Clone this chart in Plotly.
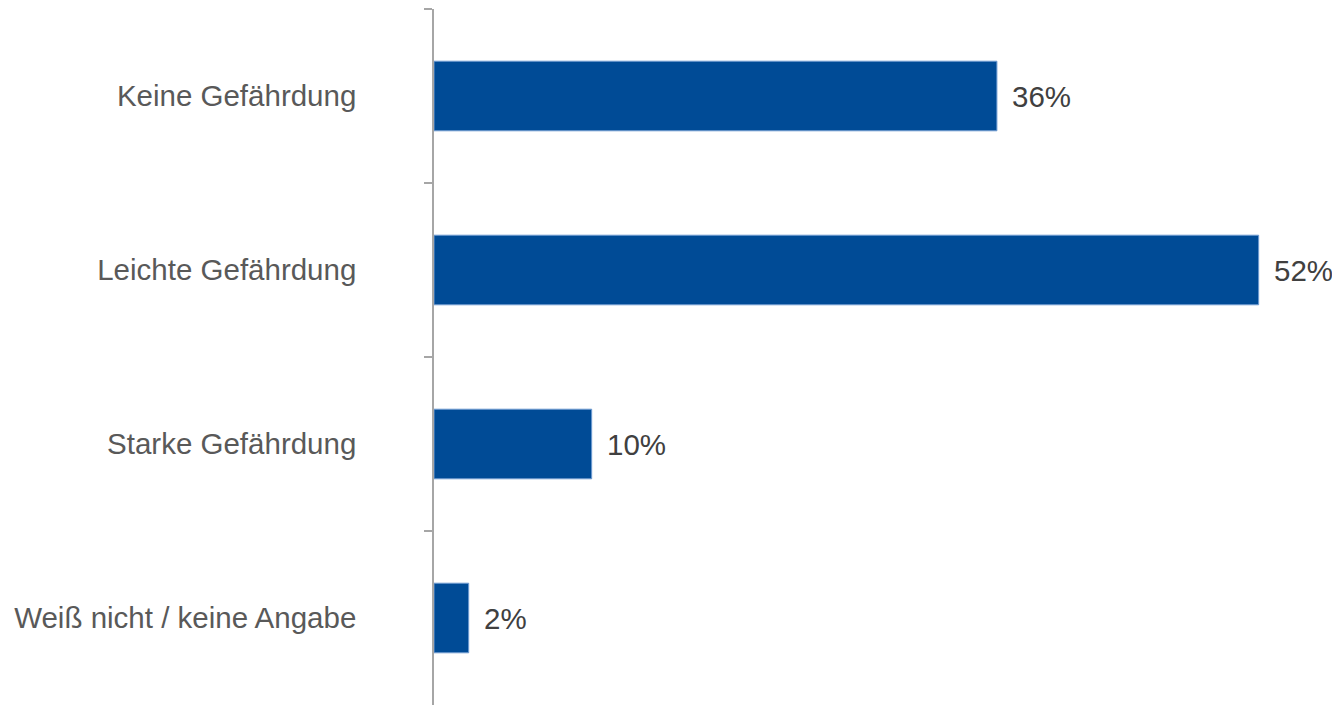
import plotly.graph_objects as go

categories = ["Keine Gefährdung", "Leichte Gefährdung", "Starke Gefährdung", "Weiß nicht / keine Angabe"]
values = [35.7, 52.3, 10.0, 2.2]
labels = ["36%", "52%", "10%", "2%"]

fig = go.Figure()
fig.add_trace(go.Bar(
    y=categories, x=values, orientation="h",
    marker=dict(color="#004B96", line=dict(color="#6F9BD1", width=1)),
    width=0.4,
    hoverinfo="skip",
))
for c, v, t in zip(categories, values, labels):
    fig.add_annotation(x=v, y=c, text=t, showarrow=False, xanchor="left",
                       xshift=13, font=dict(family="Liberation Sans, Arial", size=29.5, color="#404040"))

fig.update_layout(
    width=1332, height=705,
    margin=dict(l=434, r=15, t=9, b=0),
    plot_bgcolor="white", paper_bgcolor="white",
    showlegend=False,
    font=dict(family="Liberation Sans, Arial", size=29.5, color="#595959"),
)
fig.update_xaxes(range=[0, 56], visible=False, fixedrange=True)
fig.update_yaxes(
    autorange="reversed",
    showline=True, linecolor="#A6A6A6", linewidth=1.5,
    ticks="outside", tickson="boundaries", ticklen=8, tickcolor="#A6A6A6", tickwidth=1.5,
    ticklabelstandoff=70,
    showgrid=False, zeroline=False, fixedrange=True,
)
fig.write_html("out.html", config={"displayModeBar": False},
               post_script="document.body.style.margin='0';document.body.style.overflow='hidden';")
